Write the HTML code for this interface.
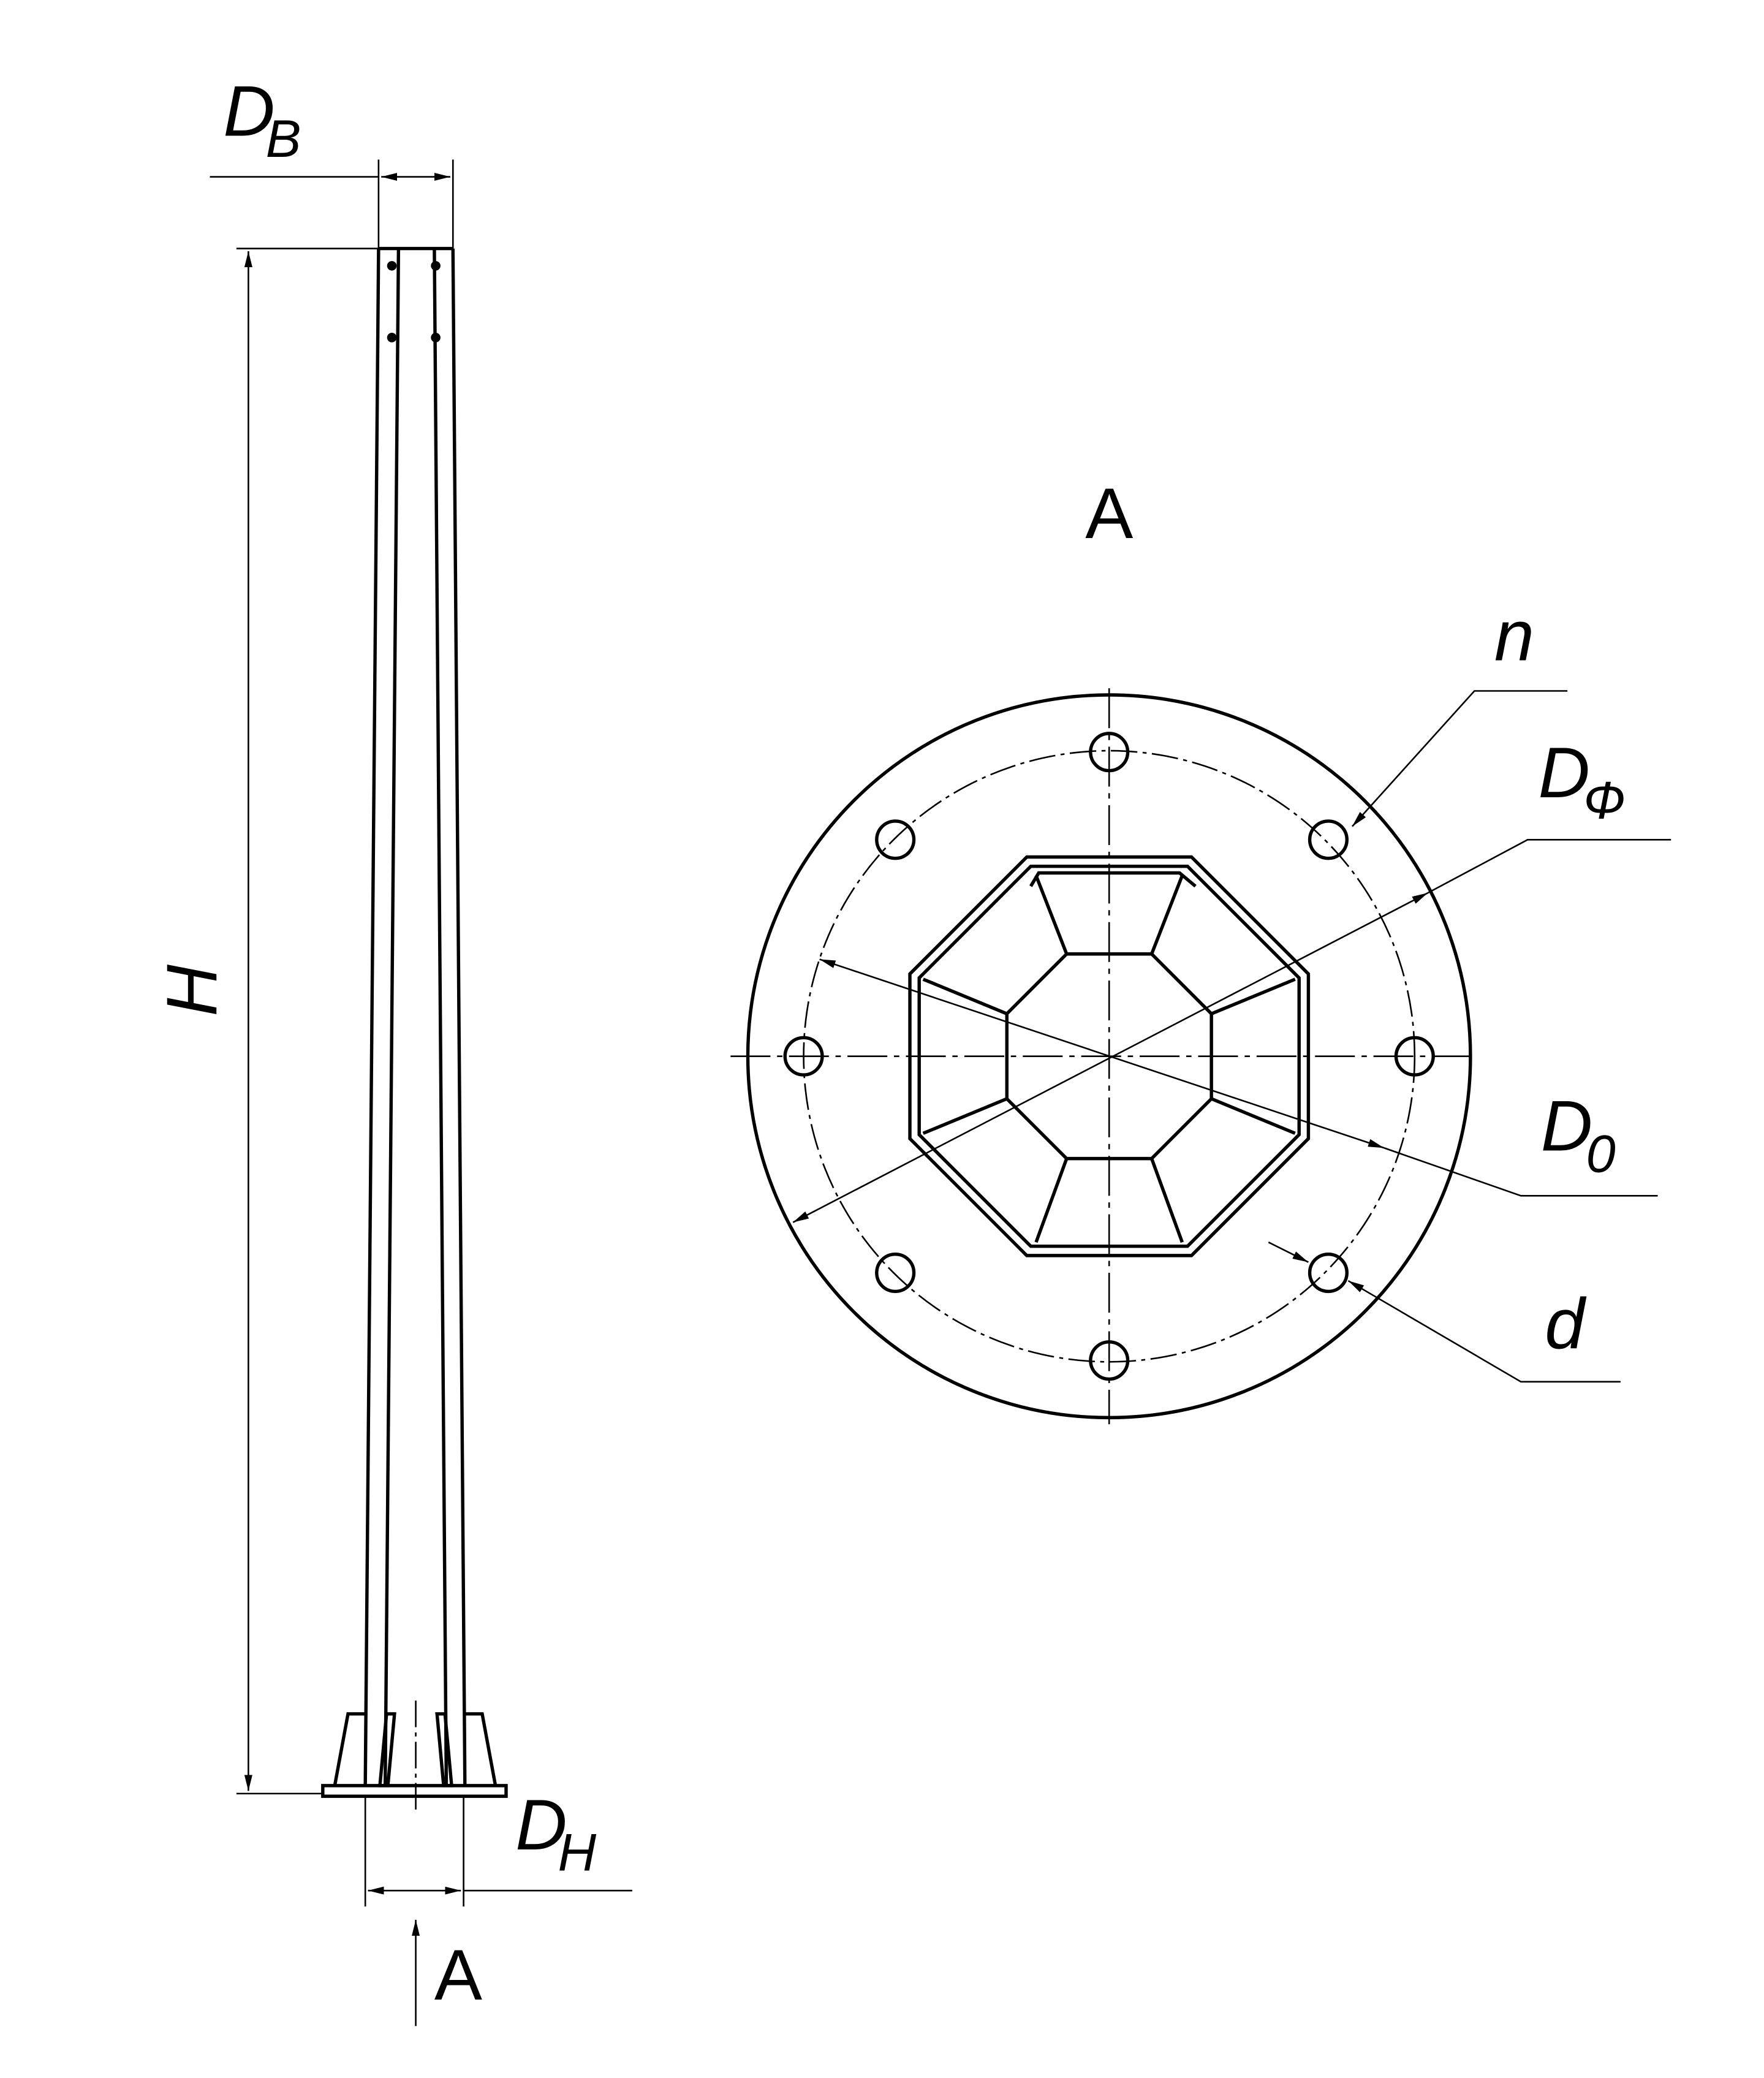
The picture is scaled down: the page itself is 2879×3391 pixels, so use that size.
<!DOCTYPE html>
<html><head><meta charset="utf-8"><style>
html,body{margin:0;padding:0;background:#fff;}
svg{display:block;}
text{font-family:"Liberation Sans",sans-serif;font-style:italic;fill:#000;}
</style></head><body>
<svg width="2879" height="3391" viewBox="0 0 1328 1564" xmlns="http://www.w3.org/2000/svg">
<defs>
<marker id="ar" viewBox="0 0 12 6" refX="12" refY="3" markerWidth="12" markerHeight="6" markerUnits="userSpaceOnUse" orient="auto-start-reverse"><path d="M0,0 L12,3 L0,6 z" fill="#000"/></marker>
</defs>
<g stroke="#000" fill="none" stroke-width="1.2">
<!-- pole -->
<line x1="285" y1="187" x2="341" y2="187" stroke-width="2.5"/>
<line x1="285" y1="187" x2="275" y2="1344" stroke-width="2.5"/>
<line x1="341" y1="187" x2="350" y2="1344" stroke-width="2.5"/>
<line x1="300" y1="187" x2="290" y2="1344" stroke-width="2.5"/>
<line x1="327" y1="187" x2="336" y2="1344" stroke-width="2.5"/>
<!-- base plate -->
<rect x="243" y="1344" width="138" height="8" stroke-width="2.5"/>
<!-- gussets -->
<polyline points="275,1290 262,1290 252,1344" stroke-width="2.5"/>
<polyline points="350,1290 363,1290 373,1344" stroke-width="2.5"/>
<polyline points="291,1290 297,1290 292,1344 286,1344 291,1290" stroke-width="2.5"/>
<polyline points="335,1290 329,1290 334,1344 340,1344 335,1290" stroke-width="2.5"/>
<line x1="313" y1="1280" x2="313" y2="1365" stroke-dasharray="20,4,3,4"/>
<circle cx="295" cy="200" r="3" fill="#000"/><circle cx="328" cy="200" r="3" fill="#000"/>
<circle cx="295" cy="254" r="3" fill="#000"/><circle cx="328" cy="254" r="3" fill="#000"/>
<!-- H dim -->
<line x1="178" y1="187" x2="285" y2="187"/>
<line x1="178" y1="1350" x2="243" y2="1350"/>
<line x1="187" y1="189" x2="187" y2="1348" marker-start="url(#ar)" marker-end="url(#ar)"/>
<!-- DB dim -->
<line x1="285" y1="120" x2="285" y2="187"/>
<line x1="341" y1="120" x2="341" y2="187"/>
<line x1="158" y1="133" x2="285" y2="133"/>
<line x1="287" y1="133" x2="339" y2="133" marker-start="url(#ar)" marker-end="url(#ar)"/>
<!-- DH dim -->
<line x1="275" y1="1352" x2="275" y2="1435"/>
<line x1="349" y1="1352" x2="349" y2="1435"/>
<line x1="277" y1="1423" x2="347" y2="1423" marker-start="url(#ar)" marker-end="url(#ar)"/>
<line x1="349" y1="1423" x2="476" y2="1423"/>
<!-- A arrow -->
<line x1="313" y1="1525" x2="313" y2="1445" marker-end="url(#ar)"/>
<!-- plan view -->
<circle cx="835" cy="795" r="272" stroke-width="2.5"/>
<circle cx="835" cy="795" r="230" stroke-dasharray="20,4,3,4"/>
<line x1="550" y1="795" x2="1112" y2="795" stroke-dasharray="30,5,4,5"/>
<line x1="835" y1="518" x2="835" y2="1072" stroke-dasharray="30,5,4,5"/>
<g stroke-width="2.5">
<circle cx="835" cy="566" r="14"/><circle cx="1000" cy="632" r="14"/>
<circle cx="1065" cy="795" r="14"/><circle cx="1000" cy="958" r="14"/>
<circle cx="835" cy="1024" r="14"/><circle cx="674" cy="958" r="14"/>
<circle cx="605" cy="795" r="14"/><circle cx="674" cy="632" r="14"/>
<polygon points="773,645 897,645 985,733 985,857 897,945 773,945 685,857 685,733"/>
<polygon points="776,652 894,652 978,736 978,854 894,938 776,938 692,854 692,736"/>
<polygon points="803,718 867,718 912,763 912,827 867,872 803,872 758,827 758,763"/>
<line x1="803" y1="718" x2="780" y2="659"/><line x1="867" y1="718" x2="890" y2="659"/>
<line x1="912" y1="763" x2="975" y2="737"/><line x1="912" y1="827" x2="975" y2="853"/>
<line x1="867" y1="872" x2="890" y2="935"/><line x1="803" y1="872" x2="780" y2="935"/>
<line x1="758" y1="827" x2="695" y2="853"/><line x1="758" y1="763" x2="695" y2="737"/>
<polyline points="776,667 782,657 888,657 900,667"/>
</g>
<!-- leaders -->
<line x1="597" y1="920" x2="1075" y2="672" marker-start="url(#ar)" marker-end="url(#ar)"/>
<polyline points="1075,672 1150,632 1258,632"/>
<line x1="617" y1="722" x2="1042" y2="864" marker-start="url(#ar)" marker-end="url(#ar)"/>
<polyline points="1042,864 1145,900 1248,900"/>
<polyline points="1018,622 1110,520 1180,520" marker-start="url(#ar)"/>
<line x1="955" y1="935" x2="985" y2="950" marker-end="url(#ar)"/>
<polyline points="1015,964 1145,1040 1220,1040" marker-start="url(#ar)"/>
</g>
<g font-size="54">
<text x="168" y="102">D</text><text x="200" y="118" font-size="40">B</text>
<text x="388" y="1392">D</text><text x="420" y="1408" font-size="40">H</text>
<text x="1158" y="600">D</text><text x="1192" y="616" font-size="40">Ф</text>
<text x="1160" y="866">D</text><text x="1194" y="882" font-size="40">0</text>
<text x="1125" y="497">n</text>
<text x="1163" y="1015">d</text>
<text x="327" y="1505" style="font-style:normal">A</text>
<text x="817" y="405" style="font-style:normal">A</text>
<text x="0" y="0" transform="translate(163,765) rotate(-90)">H</text>
</g>
</svg>
</body></html>
